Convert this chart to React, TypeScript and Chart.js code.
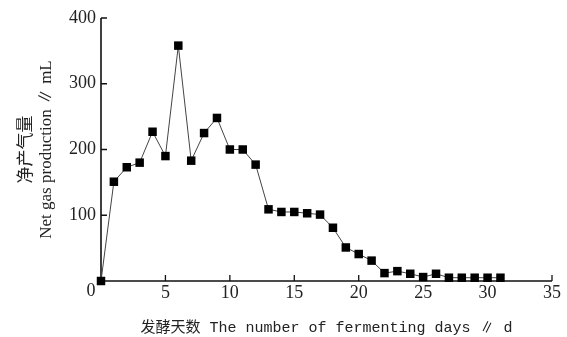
import React, { useEffect, useRef } from "react";
import { Chart, registerables } from "chart.js";

Chart.register(...registerables);

const days = [0, 1, 2, 3, 4, 5, 6, 7, 8, 9, 10, 11, 12, 13, 14, 15, 16, 17, 18, 19, 20, 21, 22, 23, 24, 25, 26, 27, 28, 29, 30, 31];
const netGas = [0, 151, 173, 180, 227, 190, 358, 183, 225, 248, 200, 200, 177, 109, 105, 105, 103, 101, 81, 51, 41, 31, 12, 15, 11, 6, 11, 5, 5, 5, 5, 5];
const xTicks = [0, 5, 10, 15, 20, 25, 30, 35];
const yTicks = [0, 100, 200, 300, 400];
const xTitle = "发酵天数 The number of fermenting days ∥ d";
const yTitle = ["净产气量", "Net gas production ∥ mL"];

const tickFont = { family: "'Liberation Serif', 'Noto Sans CJK SC'", size: 18 };

const axesPlugin = {
  id: "customAxes",
  beforeDatasetsDraw(chart: any) {
    const { ctx, chartArea, scales } = chart;
    const xs = scales.x;
    const ys = scales.y;
    ctx.save();
    ctx.strokeStyle = "#111";
    ctx.lineWidth = 1.6;
    ctx.beginPath();
    ctx.moveTo(chartArea.left, chartArea.top);
    ctx.lineTo(chartArea.left, chartArea.bottom);
    ctx.lineTo(chartArea.right, chartArea.bottom);
    ctx.stroke();
    ctx.lineWidth = 1.3;
    ctx.beginPath();
    for (const v of yTicks) {
      if (v === 0) continue;
      const py = ys.getPixelForValue(v);
      ctx.moveTo(chartArea.left, py);
      ctx.lineTo(chartArea.left + 6, py);
    }
    for (const v of xTicks) {
      if (v === 0) continue;
      const px = xs.getPixelForValue(v);
      ctx.moveTo(px, chartArea.bottom);
      ctx.lineTo(px, chartArea.bottom - 6);
    }
    ctx.stroke();
    // shared origin label
    ctx.fillStyle = "#222";
    ctx.font = `${tickFont.size}px ${tickFont.family}`;
    ctx.textAlign = "center";
    ctx.textBaseline = "middle";
    ctx.fillText("0", chartArea.left - 10, chartArea.bottom + 10);
    ctx.restore();
  },
};

export default function App() {
  const ref = useRef<HTMLCanvasElement>(null);
  useEffect(() => {
    if (!ref.current) return;
    const chart = new Chart(ref.current, {
      type: "line",
      data: {
        datasets: [
          {
            data: days.map((d, i) => ({ x: d, y: netGas[i] })),
            borderColor: "#444",
            borderWidth: 1,
            backgroundColor: "#000",
            pointBackgroundColor: "#000",
            pointBorderColor: "#000",
            pointBorderWidth: 0,
            pointStyle: "rect",
            pointRadius: 6,
            tension: 0,
            clip: false as any,
          },
        ],
      },
      options: {
        animation: false,
        responsive: true,
        maintainAspectRatio: false,
        layout: { padding: { top: 18, right: 15, left: 0, bottom: 0 } },
        plugins: { legend: { display: false }, tooltip: { enabled: false } },
        scales: {
          x: {
            type: "linear",
            min: 0,
            max: 35,
            afterFit: (s: any) => {
              s.height = 56;
            },
            afterBuildTicks: (s: any) => {
              s.ticks = xTicks.map((v) => ({ value: v }));
            },
            grid: { display: false, drawTicks: false },
            border: { display: false },
            ticks: {
              font: tickFont,
              color: "#222",
              padding: 1,
              maxRotation: 0,
              callback: (v: any) => (v === 0 ? "" : String(v)),
            },
            title: {
              display: true,
              text: xTitle,
              color: "#222",
              font: { family: "'Liberation Mono', 'Noto Sans CJK SC'", size: 15 },
              padding: { top: 0, bottom: 0 },
            },
          },
          y: {
            type: "linear",
            min: 0,
            max: 400,
            afterFit: (s: any) => {
              s.width = 101;
            },
            afterBuildTicks: (s: any) => {
              s.ticks = yTicks.map((v) => ({ value: v }));
            },
            grid: { display: false, drawTicks: false },
            border: { display: false },
            ticks: {
              font: tickFont,
              color: "#222",
              padding: 5,
              callback: (v: any) => (v === 0 ? "" : String(v)),
            },
            title: {
              display: true,
              text: yTitle,
              color: "#222",
              font: { family: "'Liberation Serif', 'Noto Sans CJK SC'", size: 17 },
              padding: { top: 16, bottom: 0 },
            },
          },
        },
      },
      plugins: [axesPlugin],
    });
    return () => chart.destroy();
  }, []);
  return (
    <div style={{ position: "absolute", left: 0, top: 0, width: 567, height: 337, background: "#fff" }}>
      <canvas ref={ref} />
    </div>
  );
}
